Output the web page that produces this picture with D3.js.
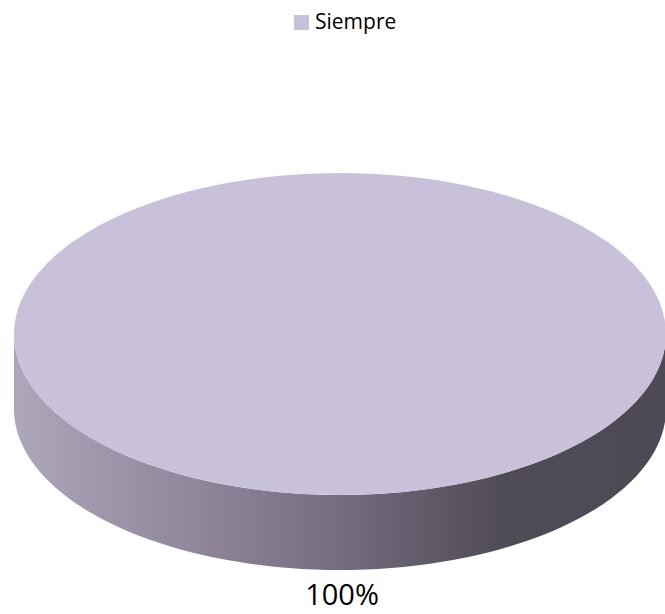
<!DOCTYPE html>
<html>
<head>
<meta charset="utf-8">
<script src="https://cdn.jsdelivr.net/npm/d3@7"></script>
<style>
  body { margin: 0; background: #fff; }
  svg { display: block; }
</style>
</head>
<body>
<div id="chart"></div>
<script>
// Data
var categories = ["Siempre"];
var values = [100];
var labels = ["100%"];
var colors = ["#c9c0d9"];

var width = 665, height = 614;
var cx = 340, cy = 334;   // centre of top face
var rx = 326, ry = 161;   // ellipse radii
var depth = 75;

var svg = d3.select("#chart").append("svg")
  .attr("width", width)
  .attr("height", height);

// side shading, light on the left, dark on the right
var defs = svg.append("defs");
var grad = defs.append("linearGradient")
  .attr("id", "sideGrad")
  .attr("gradientUnits", "userSpaceOnUse")
  .attr("x1", cx - rx).attr("x2", cx + rx)
  .attr("y1", 0).attr("y2", 0);
[["0%", "#aea6bb"], ["36%", "#877d92"], ["50%", "#766c81"], ["67%", "#5b5562"], ["75%", "#504c57"], ["100%", "#4e4a55"]]
  .forEach(function(s) {
    grad.append("stop").attr("offset", s[0]).attr("stop-color", s[1]);
  });

var pie = d3.pie().sort(null).value(function(d) { return d; });
var slices = pie(values);

// point on ellipse for a d3 angle (0 = 12 o'clock, clockwise)
function pt(a, dy) {
  return [cx + rx * Math.sin(a), cy - ry * Math.cos(a) + (dy || 0)];
}

// side walls (only the front half is visible)
slices.forEach(function(s, i) {
  var a0 = Math.max(s.startAngle, Math.PI / 2);
  var a1 = Math.min(s.endAngle, 3 * Math.PI / 2);
  if (a1 <= a0) return;
  var n = 80, top = [], bot = [];
  for (var k = 0; k <= n; k++) {
    var a = a0 + (a1 - a0) * k / n;
    top.push(pt(a));
    bot.push(pt(a, depth));
  }
  var pts = top.concat(bot.reverse());
  svg.append("path")
    .attr("d", d3.line()(pts) + "Z")
    .attr("fill", "url(#sideGrad)");
});

// top faces
var arc = d3.arc().innerRadius(0).outerRadius(1);
svg.append("g")
  .attr("transform", "translate(" + cx + "," + cy + ") scale(" + rx + "," + ry + ")")
  .selectAll("path")
  .data(slices)
  .enter().append("path")
  .attr("d", arc)
  .attr("fill", function(d, i) { return colors[i]; });

// data label
svg.append("text")
  .attr("x", cx + 2)
  .attr("y", 605)
  .attr("text-anchor", "middle")
  .style("font-family", "'Open Sans', 'Liberation Sans', sans-serif")
  .style("font-size", "29px")
  .style("fill", "#000")
  .text(labels[0]);

// legend
var legend = svg.append("g").attr("transform", "translate(294,15)");
legend.append("rect")
  .attr("width", 15).attr("height", 15)
  .attr("fill", colors[0]);
legend.append("text")
  .attr("x", 21).attr("y", 14)
  .style("font-family", "'Open Sans', 'Liberation Sans', sans-serif")
  .style("font-size", "21px")
  .style("fill", "#000")
  .text(categories[0]);
</script>
</body>
</html>
